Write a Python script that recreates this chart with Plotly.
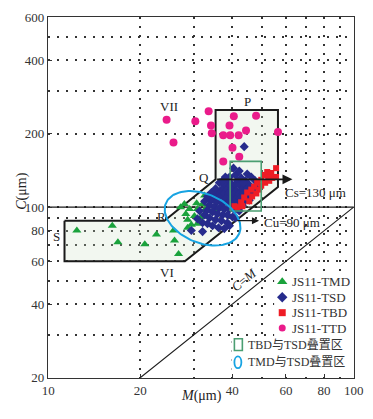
import math
import numpy as np
import plotly.graph_objects as go

# ---- data (M, C in micrometres) ----
tmd_m = [12.4, 16.2, 16.9, 20.7, 22.6, 25.7, 25.9, 26.7, 27.1, 28.2, 28.6, 29.0, 29.4, 30.1, 30.6,
         30.8, 30.8, 31.7, 32.0, 32.5, 32.5, 33.2, 34.5, 35.0, 35.8, 36.9, 28.6, 27.9, 31.3, 33.7]
tmd_c = [80.2, 83.9, 71.8, 70.5, 77.3, 80.2, 73.1, 64.3, 100.0, 93.8, 88.7, 98.2, 84.7, 92.0, 103.8,
         98.2, 85.5, 91.2, 103.0, 111.7, 97.3, 106.7, 96.4, 94.6, 98.2, 115.9, 82.4, 103.0, 87.9, 102.0]

tsd_m = [43.8, 40.4, 41.0, 44.8, 42.8, 39.2, 46.2, 41.6, 38.6, 44.2, 47.6, 39.7, 36.3, 37.7, 39.2,
         40.7, 42.2, 43.8, 45.5, 36.9, 38.3, 39.7, 41.3, 42.8, 44.5, 46.2, 35.8, 37.4, 38.9, 40.4,
         41.9, 43.5, 45.2, 35.0, 36.3, 38.0, 39.5, 41.0, 42.5, 44.2, 34.2, 35.5, 37.2, 38.6, 40.1,
         41.6, 43.2, 33.7, 35.0, 36.3, 37.7, 39.2, 40.7, 42.2, 33.2, 34.5, 35.8, 37.2, 38.6, 40.1,
         32.5, 33.7, 35.3, 36.9, 38.6, 39.2, 32.0, 33.2, 34.5, 36.1, 32.0, 29.4, 30.8, 31.3, 34.2,
         35.3, 32.5, 33.2, 38.0, 42.2, 43.5, 46.9, 45.5, 47.6, 37.2, 41.0, 37.7]
tsd_c = [177.0, 144.5, 135.5, 136.8, 131.8, 133.0, 133.0, 128.2, 128.2, 128.2, 128.2, 124.7, 125.9, 123.6, 121.3,
         122.5, 123.6, 121.3, 123.6, 118.0, 117.0, 118.0, 117.0, 117.0, 118.0, 119.1, 114.8, 112.7, 113.8, 112.7,
         112.7, 113.8, 112.7, 110.7, 109.6, 108.6, 108.6, 107.6, 108.6, 106.7, 106.7, 104.7, 103.8, 103.8, 102.8,
         102.8, 101.9, 101.9, 100.0, 99.1, 98.2, 98.2, 97.3, 96.4, 97.3, 95.5, 93.8, 92.9, 92.9, 91.2,
         92.9, 90.4, 88.7, 87.9, 86.3, 83.9, 86.3, 85.5, 83.9, 82.4, 79.4, 80.2, 89.5, 96.4, 114.8,
         119.1, 105.7, 110.7, 133.0, 140.6, 125.9, 114.8, 106.7, 121.3, 128.2, 90.4, 81.7]

tbd_m = [55.7, 52.1, 53.7, 50.9, 54.1, 52.5, 55.7, 49.8, 48.3, 51.3, 47.2, 49.8, 46.2, 49.0, 44.8,
         46.5, 43.8, 45.5, 42.8, 43.2, 41.6, 40.7, 48.0, 52.9]
tbd_c = [144.5, 139.3, 138.0, 135.5, 131.8, 131.8, 133.0, 129.4, 125.9, 125.9, 121.3, 122.5, 118.0, 118.0, 114.8,
         110.7, 109.6, 105.7, 104.7, 100.9, 100.0, 100.9, 113.8, 128.2]

ttd_m = [24.4, 25.7, 33.5, 30.3, 34.1, 34.3, 40.5, 47.9, 39.2, 37.4, 39.4, 42.0, 44.4, 56.5, 40.1, 42.2, 37.4]
ttd_c = [228, 184, 247, 225, 216, 201, 236, 237, 216, 197, 197, 197, 206, 203, 175, 161, 154]

# ---- diagram outlines ----
zone_m = [11.3, 24.0, 35.3, 35.3, 56.5, 56.5, 28.0, 11.3, 11.3]   # S-R-Q-P outline
zone_c = [88, 88, 130, 250, 250, 121, 60, 60, 88]
overlap_tbd_m = [39.4, 49.8, 49.8, 39.4, 39.4]
overlap_tbd_c = [96.4, 96.4, 154, 154, 96.4]
cm_line = [20, 100]
c100_m = [10, 100]
c100_c = [100, 100]
cs, cu = 130, 88
q_m, cs_tip_m = 35.3, 63.0
cu_start_m, cu_tip_m = 41.1, 49.0

x_ticks = [10, 20, 40, 60, 80, 100]
y_ticks = [20, 40, 60, 80, 100, 200, 400, 600]
x_minor = [30, 50, 70, 90]
y_minor = [30, 50, 70, 90, 300, 500]

W, H = 373, 419
L, R, T, B = 48, 18, 10, 41
X_RANGE = [1, 2]
Y_RANGE = [math.log10(20), math.log10(600)]
px_x = (W - L - R) / (X_RANGE[1] - X_RANGE[0])
px_y = (H - T - B) / (Y_RANGE[1] - Y_RANGE[0])


def px_to_m(px):
    return 10 ** (X_RANGE[0] + (px - L) / px_x)


def px_to_c(py):
    return 10 ** (Y_RANGE[1] - (py - T) / px_y)


SERIF = "Liberation Serif"
INK = "#1a1a1a"

fig = go.Figure()

fig.add_trace(go.Scatter(x=zone_m, y=zone_c, mode="lines", fill="toself",
                         fillcolor="rgba(205,225,195,0.25)", line=dict(color=INK, width=2),
                         showlegend=False, hoverinfo="skip"))
fig.add_trace(go.Scatter(x=c100_m, y=c100_c, mode="lines", line=dict(color=INK, width=1.2),
                         showlegend=False, hoverinfo="skip"))
fig.add_trace(go.Scatter(x=cm_line, y=cm_line, mode="lines", line=dict(color=INK, width=1.1),
                         showlegend=False, hoverinfo="skip"))

series = [
    (tmd_m, tmd_c, "triangle-up", "#1aa23c", 8),
    (tsd_m, tsd_c, "diamond", "#262b8c", 7),
    (tbd_m, tbd_c, "square", "#ee1c25", 6),
    (ttd_m, ttd_c, "circle", "#ea1b8a", 8),
]
for m, c, sym, col, size in series:
    fig.add_trace(go.Scatter(x=m, y=c, mode="markers", showlegend=False,
                             marker=dict(symbol=sym, color=col, size=size, line=dict(width=0))))

fig.add_trace(go.Scatter(x=overlap_tbd_m, y=overlap_tbd_c, mode="lines",
                         line=dict(color="#4b9e72", width=1.6), showlegend=False, hoverinfo="skip"))

# TMD/TSD overlap ellipse, drawn in screen space around its centre
ell_m, ell_c, ell_a, ell_b, ell_rot = 32.0, 90.0, 40, 25, math.radians(23)
t = np.linspace(0, 2 * np.pi, 120)
dx = ell_a * np.cos(ell_rot) * np.cos(t) - ell_b * np.sin(ell_rot) * np.sin(t)
dy = ell_a * np.sin(ell_rot) * np.cos(t) + ell_b * np.cos(ell_rot) * np.sin(t)
fig.add_trace(go.Scatter(x=ell_m * 10 ** (dx / px_x), y=ell_c * 10 ** (-dy / px_y), mode="lines",
                         line=dict(color="#17a3e2", width=2), showlegend=False, hoverinfo="skip"))

# ---- hand-made legend on a pixel overlay axis ----
legend_items = [
    ("JS11-TMD", "triangle-up", "#1aa23c", 9),
    ("JS11-TSD", "diamond", "#262b8c", 8),
    ("JS11-TBD", "square", "#ee1c25", 7),
    ("JS11-TTD", "circle", "#ea1b8a", 7),
]
annotations = []
for i, (name, sym, col, size) in enumerate(legend_items):
    yy = 280 + i * 15.7
    fig.add_trace(go.Scatter(x=[283], y=[yy], mode="markers", xaxis="x2", yaxis="y2", showlegend=False,
                             marker=dict(symbol=sym, color=col, size=size)))
    annotations.append(dict(x=291, y=yy, xref="x2", yref="y2", text=name, showarrow=False,
                            xanchor="left", font=dict(family=SERIF, size=13, color="#333")))

shapes = []
# white backing behind the legend, above the dotted grid but below the traces
for x0, x1, y0, y1 in [(275, 353, 271, 336), (232, 353, 336, 372)]:
    shapes.append(dict(type="rect", xref="x", yref="y", layer="between",
                       x0=px_to_m(x0), x1=px_to_m(x1), y0=px_to_c(y1), y1=px_to_c(y0),
                       fillcolor="white", line=dict(width=0)))
shapes += [
    dict(type="rect", xref="x2", yref="y2", x0=235, x1=243, y0=338, y1=350,
         line=dict(color="#4b9e72", width=1.6)),
    dict(type="circle", xref="x2", yref="y2", x0=235, x1=242, y0=356, y1=368,
         line=dict(color="#17a3e2", width=1.8)),
]
for yy, txt in [(344, "TBD与TSD叠置区"), (362, "TMD与TSD叠置区")]:
    annotations.append(dict(x=247, y=yy, xref="x2", yref="y2", text=txt, showarrow=False,
                            xanchor="left", font=dict(family=SERIF + ", Noto Sans CJK SC", size=12, color="#333")))

# ---- zone labels ----
labels = [
    ("VII", 24.9, 258), ("P", 44.8, 270), ("Q", 32.4, 132), ("R", 23.5, 92),
    ("S", 10.6, 76), ("VI", 24.4, 54),
]
for txt, m, c in labels:
    annotations.append(dict(x=math.log10(m), y=math.log10(c), text=txt, showarrow=False,
                            font=dict(family=SERIF, size=13, color="#222")))
annotations += [
    dict(x=math.log10(75.2), y=math.log10(114.8), text="Cs=130 μm", showarrow=False,
         font=dict(family=SERIF, size=13, color="#222")),
    dict(x=math.log10(62.8), y=math.log10(86.3), text="Cu=90 μm", showarrow=False,
         font=dict(family=SERIF, size=13, color="#222")),
    dict(x=math.log10(43.8), y=math.log10(50.6), text="<i>C</i>=<i>M</i>", showarrow=False,
         textangle=-39, font=dict(family=SERIF, size=13, color="#222")),
    dict(x=math.log10(cs_tip_m), y=math.log10(cs), ax=math.log10(q_m), ay=math.log10(cs),
         axref="x", ayref="y", text="", showarrow=True, arrowhead=2, arrowsize=1.1,
         arrowwidth=1.8, arrowcolor=INK, standoff=0, startstandoff=0),
    dict(x=math.log10(cu_tip_m), y=math.log10(cu), ax=math.log10(cu_start_m), ay=math.log10(cu),
         axref="x", ayref="y", text="", showarrow=True, arrowhead=2, arrowsize=1.1,
         arrowwidth=1.3, arrowcolor=INK, standoff=0, startstandoff=0),
    dict(x=(202 - L) / (W - L - R), y=-(407 - (H - B)) / (H - T - B), xref="paper", yref="paper",
         text="<i>M</i>(μm)", showarrow=False, font=dict(family=SERIF, size=14, color="#222")),
    dict(x=(11 - L) / (W - L - R), y=((H - B) - 188) / (H - T - B), xref="paper", yref="paper",
         text="<i>C</i>(μm)", showarrow=False, textangle=-90, font=dict(family=SERIF, size=14, color="#222")),
]

grid = dict(showgrid=True, gridcolor="#333", gridwidth=1.5, griddash="1.5px,7.5px")
axis_common = dict(type="log", ticks="inside", ticklen=4, tickcolor="#333", showline=True, mirror=True,
                   linecolor="#333", linewidth=1.4, zeroline=False,
                   tickfont=dict(family=SERIF, size=13, color="#333"), **grid)

fig.update_layout(
    width=W, height=H, margin=dict(l=L, r=R, t=T, b=B),
    paper_bgcolor="white", plot_bgcolor="white", showlegend=False,
    xaxis=dict(range=[X_RANGE[0] - 0.001, X_RANGE[1] + 0.001], tickvals=x_ticks, ticktext=[str(v) for v in x_ticks],
               minor=dict(tickvals=x_minor, ticks="", **grid), **axis_common),
    yaxis=dict(range=[Y_RANGE[0] - 0.001, Y_RANGE[1] + 0.001], tickvals=y_ticks, ticktext=[str(v) for v in y_ticks],
               minor=dict(tickvals=y_minor, ticks="", **grid), **axis_common),
    xaxis2=dict(overlaying="x", range=[L, W - R], visible=False, anchor="y2"),
    yaxis2=dict(overlaying="y", range=[H - B, T], visible=False, anchor="x2"),
    shapes=shapes, annotations=annotations,
)

# the browser's default body margin would shift the fixed-size figure
fig.write_html("out.html", config={"displayModeBar": False},
               post_script="document.body.style.margin='0';document.body.style.overflow='hidden';")
